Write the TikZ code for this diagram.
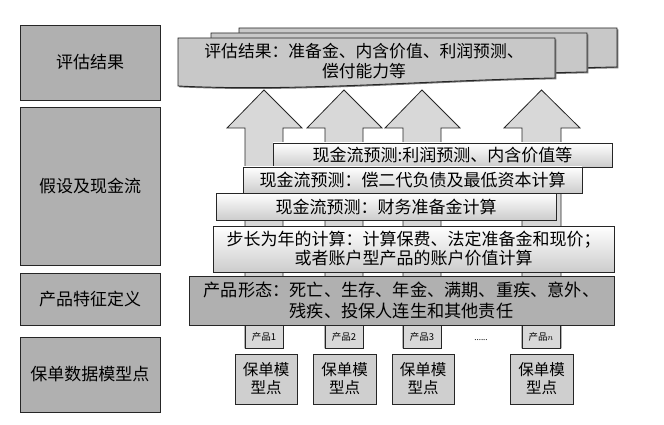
\documentclass[tikz,border=0pt]{standalone}
\usepackage{fontspec}
\setmainfont{Noto Sans CJK SC}
\usetikzlibrary{shadows}
\definecolor{boxgray}{HTML}{B0B0B0}
\definecolor{docgray}{HTML}{C8C8C8}
\definecolor{arrgray}{HTML}{D8D8D8}
\definecolor{mpgray}{HTML}{CFCFCF}
\newcommand\myuparrow[2]{%
  \draw[arrowst] (#1,348) -- (#1,128) -- ({#1-18},128) -- ({(#1+#2)/2},90) -- ({#2+19},128) -- (#2,128) -- (#2,348) -- cycle;}
\begin{document}
\begin{tikzpicture}[x=1pt,y=-1pt,
  every node/.style={inner sep=0pt, outer sep=0pt},
  shd/.style={drop shadow={shadow xshift=1.3pt, shadow yshift=-1.3pt, fill=black!55, opacity=1}},
  leftbox/.style={draw=black!85, line width=0.9pt, fill=boxgray, anchor=north west,
    minimum width=140pt, font=\fontsize{17}{20}\selectfont, shd},
  layerbox/.style={draw=black!85, line width=0.9pt, top color=white, bottom color=black!20,
    anchor=north west, align=center, font=\fontsize{17}{19}\selectfont, shd},
  formbox/.style={draw=black!85, line width=0.9pt, fill=boxgray,
    anchor=north west, align=center, font=\fontsize{17.2}{21}\selectfont, shd},
  docst/.style={draw=black!85, line width=0.9pt, fill=docgray, shd},
  arrowst/.style={draw=black!85, line width=0.8pt, fill=arrgray},
  prodbox/.style={draw=black!85, line width=0.8pt, fill=arrgray, anchor=north west,
    minimum width=38pt, minimum height=23pt, font=\fontsize{9.5}{10}\selectfont},
  mpbox/.style={draw=black!85, line width=0.9pt, fill=mpgray, anchor=north west,
    minimum height=50pt, align=center, font=\fontsize{15.5}{18}\selectfont, shd}
]
\useasboundingbox[fill=white] (0,0) rectangle (664,425);

% left column
\node[leftbox, minimum height=75pt]  (ra) at (20,25)  {评估结果};
\node[leftbox, minimum height=158pt] (rb) at (20,107) {假设及现金流};
\node[leftbox, minimum height=52pt]  (rc) at (20,273) {产品特征定义};
\node[leftbox, minimum height=75pt]  (rd) at (20,337) {保单数据模型点};

% result document stack
\draw[docst] (239,28) -- (617,28) -- (617,67) .. controls (490,69) and (350,80) .. (239,75) -- cycle;
\draw[docst] (211,33) -- (587,33) -- (587,72) .. controls (460,74) and (330,86) .. (211,80) -- cycle;
\draw[docst] (178,38) -- (555,38) -- (555,78) .. controls (430,80) and (300,92) .. (178,86) -- cycle;
\node[align=center, font=\fontsize{16.8}{20}\selectfont] (res) at (364,61)
  {评估结果：准备金、内含价值、利润预测、\\偿付能力等};

% arrows
\myuparrow{245}{283}
\myuparrow{325}{363}
\myuparrow{403}{441}
\myuparrow{522}{561}

% layers
\node[layerbox, minimum width=339pt, minimum height=24pt] (l1) at (273,143) {现金流预测:利润预测、内含价值等};
\node[layerbox, minimum width=339pt, minimum height=26pt] (l2) at (243,167) {现金流预测：偿二代负债及最低资本计算};
\node[layerbox, minimum width=340pt, minimum height=27pt] (l3) at (216,193) {现金流预测：财务准备金计算};
\node[layerbox, minimum width=401pt, minimum height=46pt] (l4) at (213,226)
  {步长为年的计算：计算保费、法定准备金和现价；\\或者账户型产品的账户价值计算};
\node[formbox, minimum width=425pt, minimum height=49pt] (l5) at (189,276)
  {产品形态：死亡、生存、年金、满期、重疾、意外、\\残疾、投保人连生和其他责任};

% product labels
\node[prodbox] (p1) at (245,325) {产品1};
\node[prodbox] (p2) at (325,325) {产品2};
\node[prodbox] (p3) at (403,325) {产品3};
\node[prodbox] (pn) at (522,325) {产品$n$};
\node[font=\fontsize{8}{9}\selectfont] (dots) at (481,340) {......};

% model points
\node[mpbox, minimum width=62pt] (m1) at (235,354) {保单模\\型点};
\node[mpbox, minimum width=63pt] (m2) at (313,354) {保单模\\型点};
\node[mpbox, minimum width=62pt] (m3) at (392,354) {保单模\\型点};
\node[mpbox, minimum width=63pt] (m4) at (510,354) {保单模\\型点};
\end{tikzpicture}
\end{document}
